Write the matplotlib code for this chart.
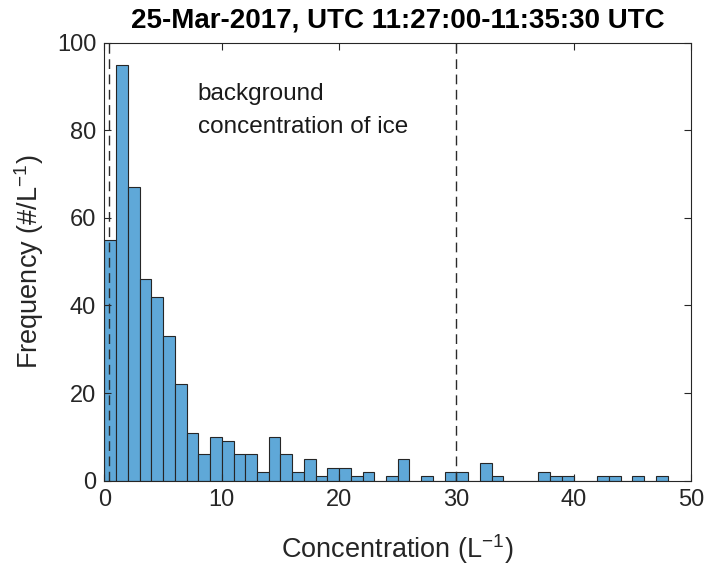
import numpy as np
import matplotlib
matplotlib.use('Agg')
import matplotlib.pyplot as plt

plt.rcParams['font.family'] = ['Liberation Sans', 'DejaVu Sans']
plt.rcParams['mathtext.fontset'] = 'custom'
plt.rcParams['mathtext.rm'] = 'Liberation Sans'

# histogram of ice concentration, bins of 1 L^-1 from 0 to 48
bin_edges = np.arange(0, 49, 1)
counts = [55, 95, 67, 46, 42, 33, 22, 11, 6, 10, 9, 6, 6, 2, 10, 6, 2, 5, 1, 3,
          3, 1, 2, 0, 1, 5, 0, 1, 0, 2, 2, 0, 4, 1, 0, 0, 0, 2, 1, 1,
          0, 0, 1, 1, 0, 1, 0, 1]
marker_lines = [0.35, 30]
title = '25-Mar-2017, UTC 11:27:00-11:35:30 UTC'
note = 'background\nconcentration of ice'

dark = '#262626'

fig = plt.figure(figsize=(7.04, 5.67), dpi=100)
ax = fig.add_axes([0.1484, 0.1522, 0.8331, 0.7725])

ax.bar(bin_edges[:-1], counts, width=1, align='edge',
       color='#5fa8d8', edgecolor=dark, linewidth=0.8)
for xv in marker_lines:
    ax.axvline(xv, color='#2a2a2a', linewidth=1.0, dashes=(7, 4))

ax.text(7.95, 84.5, note, fontsize=17.5, va='center', color='#1a1a1a',
        linespacing=1.6)

ax.set_xlim(0, 50)
ax.set_ylim(0, 100)
ax.set_xticks(np.arange(0, 51, 10))
ax.set_yticks(np.arange(0, 101, 20))
ax.tick_params(direction='in', length=5, width=0.8, colors=dark,
               labelsize=17, top=True, right=True, pad=6)
for s in ax.spines.values():
    s.set_color(dark)
    s.set_linewidth(0.8)

ax.set_xlabel('Concentration (L$^{-1}$)', fontsize=19.5, color=dark, labelpad=15)
ax.set_ylabel('Frequency (#/L$^{-1}$)', fontsize=19.5, color=dark, labelpad=8)
ax.set_title(title, fontsize=20, fontweight='bold', color='black', pad=11)

plt.savefig('out.png', dpi=100)
